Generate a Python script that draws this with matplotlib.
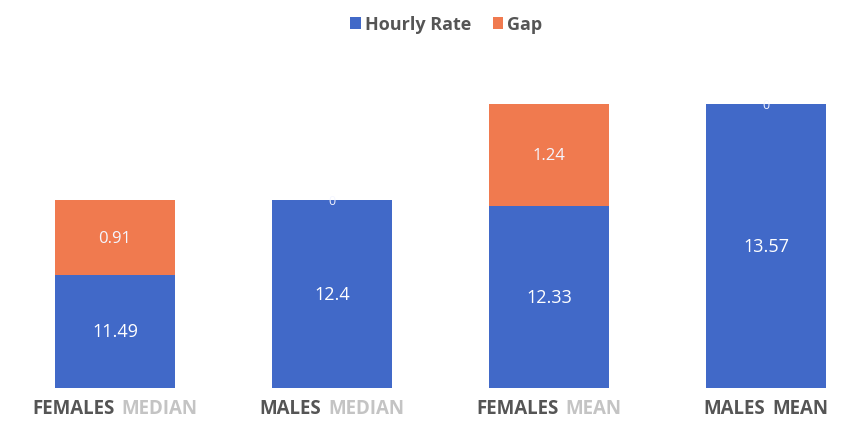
import matplotlib
matplotlib.use("Agg")
import matplotlib.pyplot as plt
from matplotlib.offsetbox import TextArea, HPacker, AnnotationBbox

# pay gap data
first_word = ["FEMALES", "MALES", "FEMALES", "MALES"]
second_word = ["MEDIAN", "MEDIAN", "MEAN", "MEAN"]
hourly = [11.49, 12.4, 12.33, 13.57]
gap = [0.91, 0, 1.24, 0]

blue = "#4169c8"
orange = "#f07a4f"
y_lo, y_hi = 10.12, 13.63

plt.rcParams["font.family"] = ["Open Sans", "DejaVu Sans"]

fig = plt.figure(figsize=(8.42, 4.27), dpi=100)
ax = fig.add_axes([0, 0.09, 1, 0.675])

x = range(len(hourly))
ax.bar(x, hourly, width=0.55, color=blue, label="Hourly Rate")
ax.bar(x, gap, bottom=hourly, width=0.55, color=orange, label="Gap")
ax.set_ylim(y_lo, y_hi)
ax.set_xlim(-0.53, 3.35)
ax.axis("off")

# data labels, centred in the visible part of each segment
for i in x:
    ax.text(i, (y_lo + hourly[i]) / 2, f"{hourly[i]:g}", color="white",
            ha="center", va="center", fontsize=13)
    ax.text(i, hourly[i] + gap[i] / 2, f"{gap[i]:g}", color="#f4f6ff",
            ha="center", va="center", fontsize=12 if gap[i] else 9)

# two-tone category labels (second word faded on the scan)
for i in x:
    box = HPacker(children=[
        TextArea(first_word[i], textprops=dict(color="#555555", fontsize=13.5, fontweight="bold")),
        TextArea(second_word[i], textprops=dict(color="#c4c4c4" if i < 3 else "#555555",
                                               fontsize=13.5, fontweight="bold")),
    ], pad=0, sep=5)
    ab = AnnotationBbox(box, (i, 0), xycoords=("data", "figure fraction"),
                        box_alignment=(0.5, 0), frameon=False, pad=0,
                        xybox=(0, 6), boxcoords="offset points")
    ax.add_artist(ab)

fig.legend(loc="upper center", bbox_to_anchor=(0.53, 1.0), ncol=2, frameon=False,
           handlelength=0.6, handleheight=0.6, handletextpad=0.2, columnspacing=1.2,
           prop=dict(size=13, weight="bold"), labelcolor="#555555")

fig.savefig("out.png", dpi=100)
